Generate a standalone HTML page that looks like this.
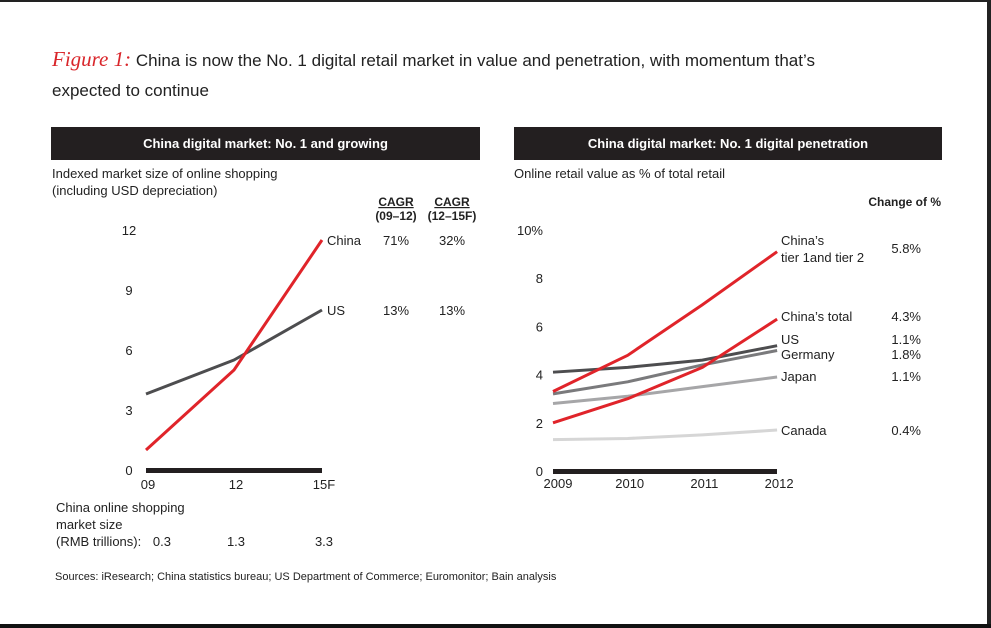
<!DOCTYPE html>
<html><head><meta charset="utf-8"><style>
body{margin:0;width:991px;height:628px;background:#fff;overflow:hidden;font-family:"Liberation Sans",sans-serif;position:relative}
.t{position:absolute;color:#222;white-space:nowrap}
.hdr{position:absolute;background:#231f20;color:#fff;font-weight:bold;font-size:13px;text-align:center;line-height:33px;height:33px;top:127px}
</style></head><body>
<div style="position:absolute;left:0;top:0;width:991px;height:2px;background:#222"></div>
<div style="position:absolute;left:987px;top:0;width:4px;height:628px;background:#222"></div>
<div style="position:absolute;left:0;top:624px;width:991px;height:4px;background:#111"></div>
<div class="t" style="left:52px;top:44px;font-size:17px;line-height:30px"><span style="color:#d9262b;font-family:'Liberation Serif',serif;font-style:italic;font-size:21px">Figure 1:</span> China is now the No. 1 digital retail market in value and penetration, with momentum that’s<br>expected to continue</div>

<div class="hdr" style="left:51px;width:429px">China digital market:  No. 1 and growing</div>
<div class="hdr" style="left:514px;width:428px">China digital market:  No. 1 digital penetration</div>

<svg width="991" height="628" style="position:absolute;left:0;top:0" font-family="Liberation Sans, sans-serif" font-size="13" fill="#222">
<g id="left"></g>
<g id="right"></g>
</svg>
<div class="t" style="left:55px;top:571px;font-size:11px">Sources:  iResearch; China statistics bureau; US Department of Commerce; Euromonitor; Bain analysis</div>
<script>
const NS='http://www.w3.org/2000/svg';
const lCats=['09','12','15F'];
const lYTicks=[0,3,6,9,12];
const chinaVals=[1.0,5.0,11.5];
const usVals=[3.8,5.5,8.0];
const cagr1=['71%','13%'];
const cagr2=['32%','13%'];
const rmbVals=['0.3','1.3','3.3'];

const rCats=['2009','2010','2011','2012'];
const rYTicks=[0,2,4,6,8,10];
const tierVals=[3.3,4.8,6.9,9.1];
const chinaTotalVals=[2.0,3.0,4.3,6.3];
const usRVals=[4.1,4.3,4.6,5.2];
const germanyVals=[3.2,3.7,4.4,5.0];
const japanVals=[2.8,3.1,3.5,3.9];
const canadaVals=[1.3,1.35,1.5,1.7];
const changeVals=['5.8%','4.3%','1.1%','1.8%','1.1%','0.4%'];

function el(tag,attrs,parent,txt){const e=document.createElementNS(NS,tag);for(const k in attrs)e.setAttribute(k,attrs[k]);if(txt!==undefined)e.textContent=txt;parent.appendChild(e);return e;}
function line(g,xs,ys,vals,color,name){
  const pts=vals.map((v,i)=>xs(i)+','+ys(v)).join(' ');
  const p=el('polyline',{points:pts,fill:'none',stroke:color,'stroke-width':3,'stroke-linejoin':'round'},g);
  
  
}
function txt(g,x,y,s,name,opts){const t=el('text',Object.assign({x:x,y:y},opts||{}),g,s);return t;}

// Left chart
const L=document.getElementById('left');
const lx=i=>146+i*88, ly=v=>470-v*20;
txt(L,52,178,'Indexed market size of online shopping','y-axis-title-line1');
txt(L,52,195,'(including USD depreciation)','y-axis-title-line2');
lYTicks.forEach(v=>txt(L,129,ly(v)+5,String(v),'y-tick-label',{'text-anchor':'middle'}));
const la=el('rect',{x:146,y:468,width:176,height:5,fill:'#231f20'},L);

lCats.forEach((c,i)=>txt(L,lx(i)+2,489,c,'x-tick-label',{'text-anchor':'middle'}));
line(L,lx,ly,usVals,'#4d4d4f','us-line');
line(L,lx,ly,chinaVals,'#e0242a','china-line');
txt(L,327,ly(chinaVals[2])+5,'China','china-label');
txt(L,327,ly(usVals[2])+5,'US','us-label');
txt(L,396,206,'CAGR','cagr-header-1',{'text-anchor':'middle','font-weight':'bold','text-decoration':'underline','font-size':'12'});
txt(L,396,220,'(09–12)','cagr-period-1',{'text-anchor':'middle','font-weight':'bold','font-size':'12'});
txt(L,452,206,'CAGR','cagr-header-2',{'text-anchor':'middle','font-weight':'bold','text-decoration':'underline','font-size':'12'});
txt(L,452,220,'(12–15F)','cagr-period-2',{'text-anchor':'middle','font-weight':'bold','font-size':'12'});
[chinaVals,usVals].forEach((s,k)=>{const y=ly(s[2])+5;txt(L,396,y,cagr1[k],'cagr-value',{'text-anchor':'middle'});txt(L,452,y,cagr2[k],'cagr-value',{'text-anchor':'middle'});});
txt(L,56,512,'China online shopping','rmb-label-line1');
txt(L,56,529,'market size','rmb-label-line2');
txt(L,56,546,'(RMB trillions):','rmb-label-line3');
rmbVals.forEach((v,i)=>txt(L,i==0?171:lx(i)+2,546,v,'rmb-value',{'text-anchor':i==0?'end':'middle'}));

// Right chart
const R=document.getElementById('right');
const rx=i=>553+i*74.7, ry=v=>471-v*24.1;
txt(R,514,178,'Online retail value as % of total retail','right-y-axis-title');
rYTicks.forEach(v=>txt(R,543,ry(v)+5,v==10?'10%':String(v),'y-tick-label',{'text-anchor':'end'}));
const ra=el('rect',{x:553,y:469,width:224,height:5,fill:'#231f20'},R);

rCats.forEach((c,i)=>txt(R,rx(i)+(i==0?5:2),488,c,'x-tick-label',{'text-anchor':'middle'}));
line(R,rx,ry,canadaVals,'#d6d6d6','canada-line');
line(R,rx,ry,japanVals,'#a6a6a8','japan-line');
line(R,rx,ry,germanyVals,'#7a7a7c','germany-line');
line(R,rx,ry,usRVals,'#4d4d4f','us-line');
line(R,rx,ry,chinaTotalVals,'#e0242a','china-total-line');
line(R,rx,ry,tierVals,'#e0242a','china-tier-line');
txt(R,941,206,'Change of %','change-header',{'text-anchor':'end','font-weight':'bold','font-size':'12'});
txt(R,781,245,'China’s','label-tier');
txt(R,781,262,'tier 1and tier 2','label-tier');
txt(R,781,321,'China’s total','label-china-total');
txt(R,781,344,'US','label-us');
txt(R,781,359,'Germany','label-germany');
txt(R,781,381,'Japan','label-japan');
txt(R,781,435,'Canada','label-canada');
[253,321,344,359,381,435].forEach((y,k)=>txt(R,921,y,changeVals[k],'change-value',{'text-anchor':'end'}));
</script>
</body></html>
